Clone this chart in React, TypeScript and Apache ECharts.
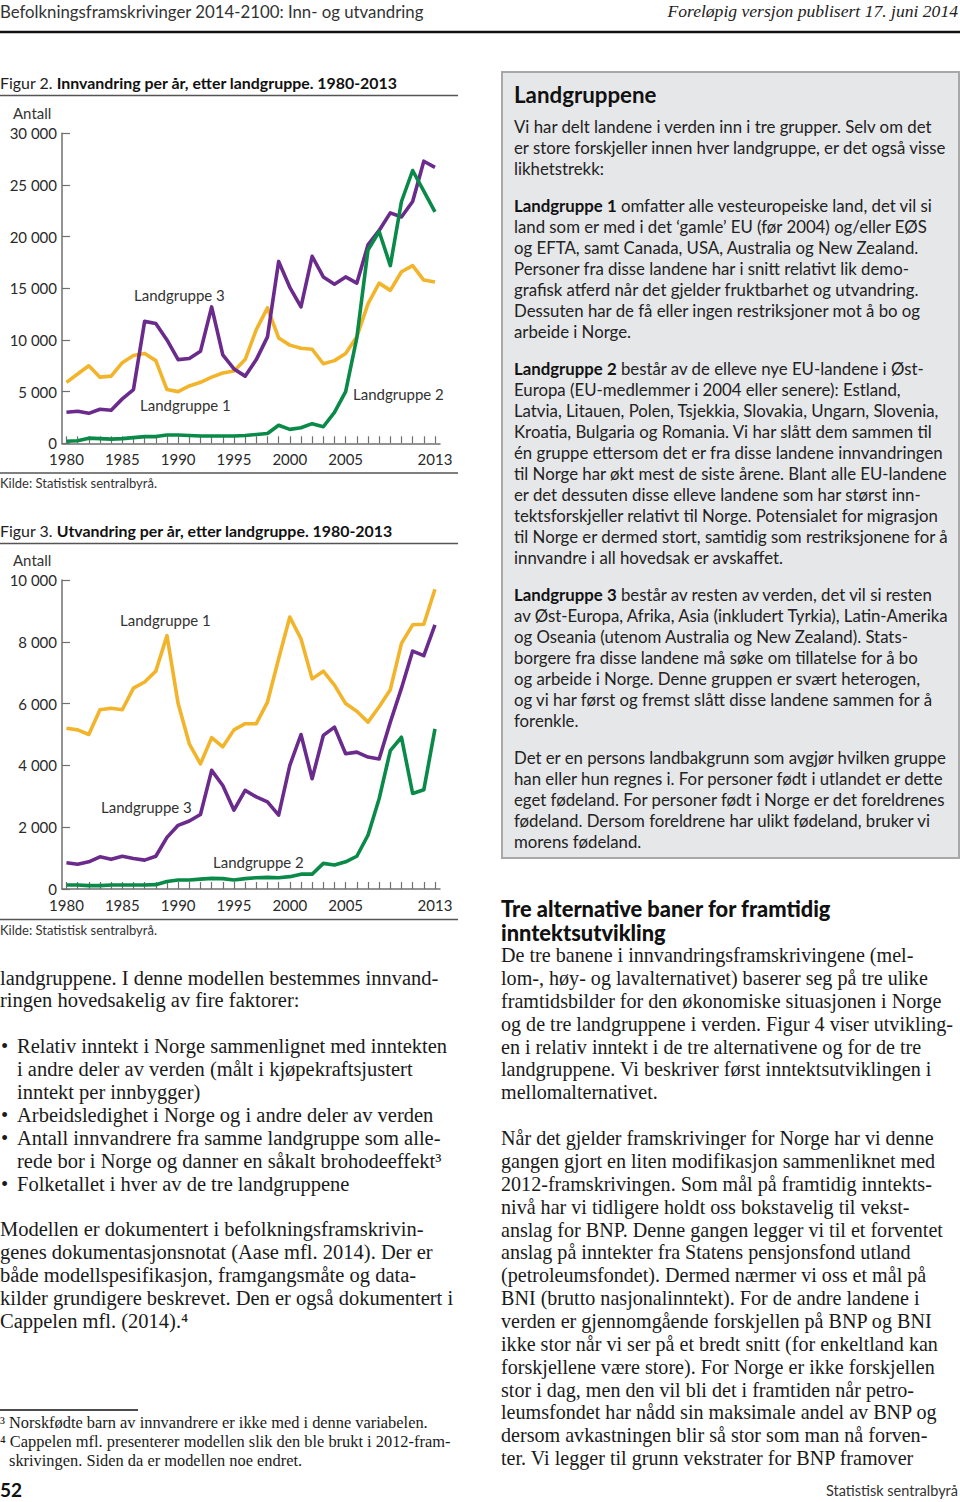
import React, { useEffect, useRef } from 'react';
import * as echarts from 'echarts';

// ---------- Data ----------
const years = [1980, 1981, 1982, 1983, 1984, 1985, 1986, 1987, 1988, 1989, 1990, 1991, 1992, 1993, 1994, 1995, 1996, 1997, 1998, 1999, 2000, 2001, 2002, 2003, 2004, 2005, 2006, 2007, 2008, 2009, 2010, 2011, 2012, 2013];
const xLabelYears = [1980, 1985, 1990, 1995, 2000, 2005, 2013];

// Figur 2: Innvandring
const innLand1 = [5900, 6700, 7500, 6400, 6500, 7800, 8500, 8700, 8000, 5200, 5000, 5550, 5900, 6400, 6800, 7000, 8100, 11000, 13100, 10200, 9500, 9200, 9100, 7700, 8000, 8700, 10300, 13500, 15500, 14800, 16600, 17200, 15800, 15600];
const innLand2 = [200, 250, 500, 450, 400, 450, 550, 650, 650, 800, 800, 750, 700, 700, 700, 700, 750, 850, 950, 1750, 1350, 1500, 1900, 1600, 3000, 5000, 10200, 18700, 20500, 17200, 23400, 26400, 24400, 22400];
const innLand3 = [3000, 3100, 2900, 3300, 3200, 4300, 5200, 11800, 11600, 10000, 8100, 8200, 8900, 13200, 8550, 7200, 6500, 8100, 10300, 17600, 15100, 13200, 18100, 16100, 15400, 16100, 15500, 19200, 20600, 22300, 21900, 23400, 27300, 26700];

// Figur 3: Utvandring
const utvLand1 = [5200, 5150, 5000, 5800, 5850, 5800, 6500, 6700, 7050, 8200, 6000, 4700, 4050, 4900, 4600, 5150, 5350, 5350, 6050, 7450, 8800, 8100, 6800, 7050, 6600, 6000, 5750, 5400, 5900, 6450, 7950, 8550, 8570, 9700];
const utvLand2 = [130, 130, 110, 110, 130, 130, 130, 130, 140, 240, 290, 290, 320, 345, 335, 290, 335, 365, 375, 365, 400, 480, 480, 830, 775, 880, 1060, 1740, 2920, 4480, 4910, 3090, 3210, 5180];
const utvLand3 = [850, 800, 880, 1040, 960, 1060, 990, 935, 1060, 1670, 2060, 2200, 2410, 3840, 3350, 2550, 3190, 2980, 2820, 2390, 4000, 5000, 3570, 4970, 5240, 4375, 4430, 4270, 4210, 5400, 6500, 7700, 7550, 8550];

const seriesNames = ['Landgruppe 1', 'Landgruppe 2', 'Landgruppe 3'];

// ---------- Styles ----------
const SANS = 'Lato, "Open Sans", sans-serif';
const SERIF = '"Liberation Serif", "DejaVu Serif", serif';
const C1 = '#F2B42A';
const C2 = '#0A8A48';
const C3 = '#6B2B8C';
const AXIS = '#707070';
const TXT = '#2a2a2a';

const fmtThousands = (v: number) => String(v).replace(/\B(?=(\d{3})+(?!\d))/g, ' ');

const T = (x: number, y: number, text: string, o: any = {}) => ({
  type: 'text',
  x,
  y,
  silent: true,
  style: {
    text,
    fontFamily: o.fontFamily || SANS,
    fontSize: o.fontSize || 15,
    fontWeight: o.fontWeight || 'normal',
    fontStyle: o.fontStyle || 'normal',
    fill: o.fill || TXT,
    align: o.align || 'left',
    verticalAlign: 'middle',
    textAlign: o.align || 'left',
    textVerticalAlign: 'middle',
    rich: o.rich,
  },
});

const L = (x1: number, y1: number, x2: number, y2: number, stroke: string, lineWidth: number) => ({
  type: 'line',
  silent: true,
  shape: { x1, y1, x2, y2 },
  style: { stroke, lineWidth },
});

// ---------- Texts ----------
const boxLines: [number, string][] = [
  [126, 'Vi har delt landene i verden inn i tre grupper. Selv om det'],
  [147, 'er store forskjeller innen hver landgruppe, er det også visse'],
  [168, 'likhetstrekk:'],
  [205, '{b|Landgruppe 1} omfatter alle vesteuropeiske land, det vil si'],
  [226, 'land som er med i det ‘gamle’ EU (før 2004) og/eller EØS'],
  [247, 'og EFTA, samt Canada, USA, Australia og New Zealand.'],
  [268, 'Personer fra disse landene har i snitt relativt lik demo-'],
  [289, 'grafisk atferd når det gjelder fruktbarhet og utvandring.'],
  [310, 'Dessuten har de få eller ingen restriksjoner mot å bo og'],
  [331, 'arbeide i Norge.'],
  [368, '{b|Landgruppe 2} består av de elleve nye EU-landene i Øst-'],
  [389, 'Europa (EU-medlemmer i 2004 eller senere): Estland,'],
  [410, 'Latvia, Litauen, Polen, Tsjekkia, Slovakia, Ungarn, Slovenia,'],
  [431, 'Kroatia, Bulgaria og Romania. Vi har slått dem sammen til'],
  [452, 'én gruppe ettersom det er fra disse landene innvandringen'],
  [473, 'til Norge har økt mest de siste årene. Blant alle EU-landene'],
  [494, 'er det dessuten disse elleve landene som har størst inn-'],
  [515, 'tektsforskjeller relativt til Norge. Potensialet for migrasjon'],
  [536, 'til Norge er dermed stort, samtidig som restriksjonene for å'],
  [557, 'innvandre i all hovedsak er avskaffet.'],
  [594, '{b|Landgruppe 3} består av resten av verden, det vil si resten'],
  [615, 'av Øst-Europa, Afrika, Asia (inkludert Tyrkia), Latin-Amerika'],
  [636, 'og Oseania (utenom Australia og New Zealand). Stats-'],
  [657, 'borgere fra disse landene må søke om tillatelse for å bo'],
  [678, 'og arbeide i Norge. Denne gruppen er svært heterogen,'],
  [699, 'og vi har først og fremst slått disse landene sammen for å'],
  [720, 'forenkle.'],
  [757, 'Det er en persons landbakgrunn som avgjør hvilken gruppe'],
  [778, 'han eller hun regnes i. For personer født i utlandet er dette'],
  [799, 'eget fødeland. For personer født i Norge er det foreldrenes'],
  [820, 'fødeland. Dersom foreldrene har ulikt fødeland, bruker vi'],
  [841, 'morens fødeland.'],
];

const leftBody: [number, number, string][] = [
  [0, 978, 'landgruppene. I denne modellen bestemmes innvand-'],
  [0, 1000, 'ringen hovedsakelig av fire faktorer:'],
  [17, 1046, 'Relativ inntekt i Norge sammenlignet med inntekten'],
  [17, 1069, 'i andre deler av verden (målt i kjøpekraftsjustert'],
  [17, 1092, 'inntekt per innbygger)'],
  [17, 1115, 'Arbeidsledighet i Norge og i andre deler av verden'],
  [17, 1138, 'Antall innvandrere fra samme landgruppe som alle-'],
  [17, 1161, 'rede bor i Norge og danner en såkalt brohodeeffekt³'],
  [17, 1184, 'Folketallet i hver av de tre landgruppene'],
  [0, 1229, 'Modellen er dokumentert i befolkningsframskrivin-'],
  [0, 1252, 'genes dokumentasjonsnotat (Aase mfl. 2014). Der er'],
  [0, 1275, 'både modellspesifikasjon, framgangsmåte og data-'],
  [0, 1298, 'kilder grundigere beskrevet. Den er også dokumentert i'],
  [0, 1321, 'Cappelen mfl. (2014).⁴'],
];
const bulletYs = [1046, 1115, 1138, 1184];

const rightBody: [number, string][] = [
  [955, 'De tre banene i innvandringsframskrivingene (mel-'],
  [978, 'lom-, høy- og lavalternativet) baserer seg på tre ulike'],
  [1001, 'framtidsbilder for den økonomiske situasjonen i Norge'],
  [1024, 'og de tre landgruppene i verden. Figur 4 viser utvikling-'],
  [1047, 'en i relativ inntekt i de tre alternativene og for de tre'],
  [1069, 'landgruppene. Vi beskriver først inntektsutviklingen i'],
  [1092, 'mellomalternativet.'],
  [1138, 'Når det gjelder framskrivinger for Norge har vi denne'],
  [1161, 'gangen gjort en liten modifikasjon sammenliknet med'],
  [1184, '2012-framskrivingen. Som mål på framtidig inntekts-'],
  [1207, 'nivå har vi tidligere holdt oss bokstavelig til vekst-'],
  [1230, 'anslag for BNP. Denne gangen legger vi til et forventet'],
  [1252, 'anslag på inntekter fra Statens pensjonsfond utland'],
  [1275, '(petroleumsfondet). Dermed nærmer vi oss et mål på'],
  [1298, 'BNI (brutto nasjonalinntekt). For de andre landene i'],
  [1321, 'verden er gjennomgående forskjellen på BNP og BNI'],
  [1344, 'ikke stor når vi ser på et bredt snitt (for enkeltland kan'],
  [1367, 'forskjellene være store). For Norge er ikke forskjellen'],
  [1390, 'stor i dag, men den vil bli det i framtiden når petro-'],
  [1412, 'leumsfondet har nådd sin maksimale andel av BNP og'],
  [1435, 'dersom avkastningen blir så stor som man nå forven-'],
  [1458, 'ter. Vi legger til grunn vekstrater for BNP framover'],
];

const footnotes: [number, number, string][] = [
  [0, 1422, '³ Norskfødte barn av innvandrere er ikke med i denne variabelen.'],
  [0, 1441, '⁴ Cappelen mfl. presenterer modellen slik den ble brukt i 2012-fram-'],
  [9, 1460, 'skrivingen. Siden da er modellen noe endret.'],
];

const BODY_SIZE = 20.5;
const RIGHT_BODY_SIZE = 20.1;
const BOX_SIZE = 16.8;

function buildOption() {
  const pairs = (vals: number[]) => years.map((y, i) => [y, vals[i]]);
  const xAxisCommon = {
    type: 'value',
    min: 1979.6,
    max: 2013.45,
    axisLine: { show: true, onZero: false, lineStyle: { color: AXIS, width: 1.5 } },
    axisTick: { show: true, inside: true, length: 7, customValues: years, lineStyle: { color: AXIS, width: 1.2 } },
    axisLabel: { customValues: xLabelYears, formatter: (v: number) => String(v), fontSize: 15, lineHeight: 13, color: TXT, fontFamily: SANS, margin: 9.5 },
    splitLine: { show: false },
  };
  const yAxisCommon = {
    type: 'value',
    min: 0,
    axisLine: { show: true, lineStyle: { color: AXIS, width: 1.5 } },
    axisTick: { show: true, inside: true, length: 8, lineStyle: { color: AXIS, width: 1.2 } },
    axisLabel: { formatter: (v: number) => fmtThousands(v), fontSize: 15, lineHeight: 13, color: TXT, fontFamily: SANS, margin: 5 },
    splitLine: { show: false },
  };
  const lineSeries = (name: string, xi: number, vals: number[], color: string, z: number) => ({
    name,
    type: 'line',
    xAxisIndex: xi,
    yAxisIndex: xi,
    data: pairs(vals),
    symbol: 'none',
    showSymbol: false,
    lineStyle: { color, width: 3.6, join: 'round' },
    itemStyle: { color },
    z,
    silent: true,
  });

  const graphic: any[] = [];
  // header
  graphic.push(T(0, 11, 'Befolkningsframskrivinger 2014-2100: Inn- og utvandring', { fontSize: 16.8, fill: '#333' }));
  graphic.push(T(958, 11, 'Foreløpig versjon publisert 17. juni 2014', { fontFamily: SERIF, fontSize: 17.6, fontStyle: 'italic', align: 'right', fill: '#222' }));
  graphic.push(L(0, 32, 960, 32, '#111', 2.5));

  // box
  graphic.push({ type: 'rect', silent: true, shape: { x: 502, y: 72, width: 457, height: 786 }, style: { fill: '#E6E7E9', stroke: '#A8A8A8', lineWidth: 2 } });
  graphic.push(T(514, 94, 'Landgruppene', { fontSize: 22.3, fontWeight: 'bold', fill: '#111' }));
  boxLines.forEach(([y, s]) => graphic.push(T(514, y, s, { fontSize: BOX_SIZE, fill: '#222', rich: { b: { fontFamily: SANS, fontSize: BOX_SIZE, fontWeight: 'bold', fill: '#111' } } })));

  // figure 2 frame
  const titleRich = { r: { fontFamily: SANS, fontSize: 15.9, fill: '#222' }, b: { fontFamily: SANS, fontSize: 15.9, fontWeight: 'bold', fill: '#111' } };
  graphic.push(T(0, 82, '{r|Figur 2. }{b|Innvandring per år, etter landgruppe. 1980-2013}', { rich: titleRich }));
  graphic.push(L(0, 95.5, 458, 95.5, '#555', 1.5));
  graphic.push(T(13, 113, 'Antall', { fontSize: 15, fill: '#333' }));
  graphic.push(L(0, 473, 458, 473, '#555', 1.5));
  graphic.push(T(0, 483, 'Kilde: Statistisk sentralbyrå.', { fontSize: 13, fill: '#333' }));
  graphic.push(T(134, 295, seriesNames[2], { fontSize: 15, fill: '#333' }));
  graphic.push(T(140, 405, seriesNames[0], { fontSize: 15, fill: '#333' }));
  graphic.push(T(353, 394, seriesNames[1], { fontSize: 15, fill: '#333' }));

  // figure 3 frame
  graphic.push(T(0, 530, '{r|Figur 3. }{b|Utvandring per år, etter landgruppe. 1980-2013}', { rich: titleRich }));
  graphic.push(L(0, 543.5, 458, 543.5, '#555', 1.5));
  graphic.push(T(13, 560, 'Antall', { fontSize: 15, fill: '#333' }));
  graphic.push(L(0, 919.5, 458, 919.5, '#555', 1.5));
  graphic.push(T(0, 930, 'Kilde: Statistisk sentralbyrå.', { fontSize: 13, fill: '#333' }));
  graphic.push(T(120, 620, seriesNames[0], { fontSize: 15, fill: '#333' }));
  graphic.push(T(101, 807, seriesNames[2], { fontSize: 15, fill: '#333' }));
  graphic.push(T(213, 862, seriesNames[1], { fontSize: 15, fill: '#333' }));

  // left body
  leftBody.forEach(([x, y, s]) => graphic.push(T(x, y, s, { fontFamily: SERIF, fontSize: BODY_SIZE, fill: '#1a1a1a' })));
  bulletYs.forEach((y) => graphic.push(T(1, y, '•', { fontFamily: SERIF, fontSize: BODY_SIZE, fill: '#1a1a1a' })));
  graphic.push(L(0, 1410, 138, 1410, '#111', 1.5));
  footnotes.forEach(([x, y, s]) => graphic.push(T(x, y, s, { fontFamily: SERIF, fontSize: 16.4, fill: '#1a1a1a' })));
  graphic.push(T(0, 1489, '52', { fontSize: 19, fontWeight: 'bold', fill: '#111' }));

  // right body
  graphic.push(T(501, 908.5, 'Tre alternative baner for framtidig', { fontSize: 21.8, fontWeight: 900, fill: '#111' }));
  graphic.push(T(501, 932.5, 'inntektsutvikling', { fontSize: 21.8, fontWeight: 900, fill: '#111' }));
  rightBody.forEach(([y, s]) => graphic.push(T(501, y, s, { fontFamily: SERIF, fontSize: RIGHT_BODY_SIZE, fill: '#1a1a1a' })));
  graphic.push(T(958, 1490, 'Statistisk sentralbyrå', { fontSize: 14.5, align: 'right', fill: '#333' }));

  return {
    animation: false,
    backgroundColor: '#ffffff',
    textStyle: { fontFamily: SANS },
    grid: [
      { left: 62, top: 133.3, width: 378, height: 310, outerBoundsMode: 'none', containLabel: false },
      { left: 62, top: 580, width: 378, height: 309, outerBoundsMode: 'none', containLabel: false },
    ],
    xAxis: [
      { ...xAxisCommon, gridIndex: 0 },
      { ...xAxisCommon, gridIndex: 1 },
    ],
    yAxis: [
      { ...yAxisCommon, gridIndex: 0, max: 30000, interval: 5000 },
      { ...yAxisCommon, gridIndex: 1, max: 10000, interval: 2000 },
    ],
    series: [
      lineSeries(seriesNames[0], 0, innLand1, C1, 2),
      lineSeries(seriesNames[2], 0, innLand3, C3, 3),
      lineSeries(seriesNames[1], 0, innLand2, C2, 4),
      lineSeries(seriesNames[0], 1, utvLand1, C1, 2),
      lineSeries(seriesNames[2], 1, utvLand3, C3, 3),
      lineSeries(seriesNames[1], 1, utvLand2, C2, 4),
    ],
    graphic,
  };
}

export default function App() {
  const ref = useRef<HTMLDivElement>(null);
  useEffect(() => {
    if (!ref.current) return;
    const chart = echarts.init(ref.current, undefined, { renderer: 'svg' });
    chart.setOption(buildOption() as any);
    return () => chart.dispose();
  }, []);
  return (
    <div
      ref={ref}
      style={{ position: 'absolute', left: 0, top: 0, width: 960, height: 1502, background: '#fff' }}
    />
  );
}
